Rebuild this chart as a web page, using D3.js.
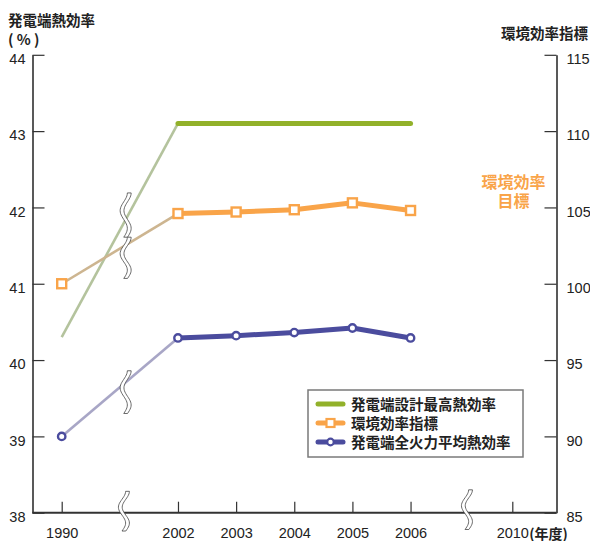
<!DOCTYPE html>
<html>
<head>
<meta charset="utf-8">
<script src="https://cdn.jsdelivr.net/npm/d3@7"></script>
<style>
  body { margin: 0; background: #fff; }
  svg { display: block; }
</style>
</head>
<body>
<div id="chart"></div>
<script>
// ---- data ----
const years = ["1990", "2002", "2003", "2004", "2005", "2006", "2010"];
const designMax = [40.3, 43.1, 43.1, 43.1, 43.1, 43.1];          // left axis (%)
const envIndex = [100, 104.6, 104.7, 104.85, 105.3, 104.8];      // right axis
const avgEfficiency = [39.0, 40.29, 40.32, 40.36, 40.42, 40.29]; // left axis (%)
const leftTicks = [38, 39, 40, 41, 42, 43, 44];
const rightTicks = [85, 90, 95, 100, 105, 110, 115];
const legendLabels = ["発電端設計最高熱効率", "環境効率指標", "発電端全火力平均熱効率"];

// ---- layout ----
const W = 590, H = 541;
const plot = {left: 32.5, right: 556.5, top: 54.8, bottom: 512.7};
// slot position of each year along the broken x axis
const yearSlots = [0, 2, 3, 4, 5, 6, 7.75];
const jp = "'Noto Sans CJK JP', 'Noto Sans', sans-serif";
const num = "'Liberation Sans', Arial, sans-serif";
const tickFont = "14.5px";

const colors = {
    green: "#92b12a", greenLink: "#b4c39d",
    orange: "#f9a449", orangeLink: "#cdb590",
    blue: "#4b4c9e", blueLink: "#a8a6c6"
};

const svg = d3.select("#chart").append("svg")
    .attr("width", W)
    .attr("height", H);

svg.append("rect").attr("width", W).attr("height", H).attr("fill", "#fff");

// Scales
const x = d3.scaleLinear().domain([0, 7.75]).range([61.7, 512.3]);
const yLeft = d3.scaleLinear().domain([38, 44]).range([plot.bottom, plot.top]);
const yRight = d3.scaleLinear().domain([85, 115]).range([plot.bottom, plot.top]);

// Left axis
const leftAxis = svg.append("g")
    .attr("transform", `translate(${plot.left},0)`)
    .call(d3.axisLeft(yLeft).tickValues(leftTicks).tickFormat(d3.format("d"))
        .tickSize(-12).tickSizeOuter(0).tickPadding(7));
leftAxis.select(".domain").attr("stroke", "#222").attr("stroke-width", 1.5);
leftAxis.selectAll(".tick line").attr("stroke", "#333").attr("stroke-width", 1.2);
leftAxis.selectAll(".tick text")
    .attr("y", 4)
    .attr("fill", "#222")
    .style("font-family", num)
    .style("font-size", tickFont);

// Right axis
const rightAxis = svg.append("g")
    .attr("transform", `translate(${plot.right},0)`)
    .call(d3.axisRight(yRight).tickValues(rightTicks).tickFormat(d3.format("d"))
        .tickSize(-12).tickSizeOuter(0).tickPadding(10));
rightAxis.select(".domain").attr("stroke", "#222").attr("stroke-width", 1.5);
rightAxis.selectAll(".tick line").attr("stroke", "#333").attr("stroke-width", 1.2);
rightAxis.selectAll(".tick text")
    .attr("y", 4)
    .attr("fill", "#222")
    .style("font-family", num)
    .style("font-size", tickFont);

// Bottom axis
const bottomAxis = svg.append("g")
    .attr("transform", `translate(0,${plot.bottom})`)
    .call(d3.axisBottom(x).tickValues(yearSlots).tickSize(-11).tickSizeOuter(0).tickPadding(15)
        .tickFormat((d, i) => years[i]));
bottomAxis.select(".domain").remove();
bottomAxis.selectAll(".tick line").attr("stroke", "#333").attr("stroke-width", 1.2);
bottomAxis.selectAll(".tick text")
    .attr("fill", "#222")
    .style("font-family", num)
    .style("font-size", tickFont);

svg.append("line")
    .attr("x1", plot.left).attr("x2", plot.right)
    .attr("y1", plot.bottom).attr("y2", plot.bottom)
    .attr("stroke", "#333")
    .attr("stroke-width", 2);

// Axis titles
svg.append("text")
    .attr("x", 8).attr("y", 25.5)
    .style("font-family", jp).style("font-size", "14.5px").style("font-weight", "bold")
    .attr("fill", "#222")
    .text("発電端熱効率");
svg.append("text")
    .attr("x", 8).attr("y", 44.5)
    .style("font-family", jp).style("font-size", "14.5px").style("font-weight", "bold")
    .attr("fill", "#222")
    .text("( % )");
svg.append("text")
    .attr("x", 588).attr("y", 38.5)
    .attr("text-anchor", "end")
    .style("font-family", jp).style("font-size", "14.5px").style("font-weight", "bold")
    .attr("fill", "#222")
    .text("環境効率指標");
svg.append("text")
    .attr("x", x(7.75) + 17).attr("y", 538.5)
    .style("font-family", jp).style("font-size", "14px").style("font-weight", "bold")
    .attr("fill", "#222")
    .text("(年度)");

// Orange target note
["環境効率", "目標"].forEach((t, i) => {
    svg.append("text")
        .attr("x", 513.5).attr("y", 188 + i * 18.5)
        .attr("text-anchor", "middle")
        .style("font-family", jp).style("font-size", "16px").style("font-weight", "bold")
        .attr("fill", colors.orange)
        .text(t);
});

// Series
const series = [
    {values: designMax, y: yLeft, color: colors.green, link: colors.greenLink, marker: null},
    {values: envIndex, y: yRight, color: colors.orange, link: colors.orangeLink, marker: "square"},
    {values: avgEfficiency, y: yLeft, color: colors.blue, link: colors.blueLink, marker: "circle"}
];

const line = d3.line()
    .x(d => x(d.slot))
    .y(d => d.py);

series.forEach(s => {
    s.points = s.values.map((v, i) => ({slot: yearSlots[i], py: s.y(v)}));
});

// thin connectors across the break (1990 -> 2002)
series.forEach(s => {
    svg.append("path")
        .datum(s.points.slice(0, 2))
        .attr("d", line)
        .attr("fill", "none")
        .attr("stroke", s.link)
        .attr("stroke-width", 2.6);
});

// Wavy break marks
function squiggle(cx, yTop, yBottom) {
    const n = 30, amp = 3.6, half = 1.9;
    const pts = d3.range(n + 1).map(k => {
        const t = k / n;
        return [cx + amp * Math.sin(Math.PI / 2 + 2 * Math.PI * 1.25 * t), yTop + t * (yBottom - yTop)];
    });
    const leftSide = pts.map(p => [p[0] - half, p[1]]);
    const rightSide = pts.map(p => [p[0] + half, p[1]]).reverse();
    svg.append("path")
        .attr("d", d3.line().curve(d3.curveLinearClosed)(leftSide.concat(rightSide)))
        .attr("fill", "#fff")
        .attr("stroke", "#444")
        .attr("stroke-width", 0.8);
}
squiggle(x(1.1), yLeft(42.19), yLeft(41.61));
squiggle(x(1.1), yLeft(41.61), yLeft(41.07));
squiggle(x(1.1), yLeft(39.86), yLeft(39.30));
squiggle(x(1.07), yLeft(38.28), yLeft(37.76));
squiggle(x(6.97), yLeft(38.30), yLeft(37.78));

// thick lines 2002-2006
series.forEach(s => {
    svg.append("path")
        .datum(s.points.slice(1))
        .attr("d", line)
        .attr("fill", "none")
        .attr("stroke", s.color)
        .attr("stroke-width", 5)
        .attr("stroke-linejoin", "round")
        .attr("stroke-linecap", "round");
});

// markers
series.forEach(s => {
    if (s.marker === "square") {
        svg.selectAll(null)
            .data(s.points)
            .enter()
            .append("rect")
            .attr("x", d => x(d.slot) - 4.5)
            .attr("y", d => d.py - 4.5)
            .attr("width", 9)
            .attr("height", 9)
            .attr("fill", "#fff")
            .attr("stroke", s.color)
            .attr("stroke-width", 2.4);
    } else if (s.marker === "circle") {
        svg.selectAll(null)
            .data(s.points)
            .enter()
            .append("circle")
            .attr("cx", d => x(d.slot))
            .attr("cy", d => d.py)
            .attr("r", 3.7)
            .attr("fill", "#fff")
            .attr("stroke", s.color)
            .attr("stroke-width", 2.4);
    }
});

// Legend
const legend = svg.append("g").attr("transform", "translate(308,390)");
legend.append("rect")
    .attr("width", 215).attr("height", 67)
    .attr("fill", "#fff")
    .attr("stroke", "#7a7a7a")
    .attr("stroke-width", 1.5);

series.forEach((s, i) => {
    const ly = 14 + i * 19;
    legend.append("line")
        .attr("x1", 10).attr("x2", 35)
        .attr("y1", ly).attr("y2", ly)
        .attr("stroke", s.color)
        .attr("stroke-width", 5)
        .attr("stroke-linecap", "round");
    if (s.marker === "square") {
        legend.append("rect")
            .attr("x", 22.5 - 4).attr("y", ly - 4)
            .attr("width", 8).attr("height", 8)
            .attr("fill", "#fff").attr("stroke", s.color).attr("stroke-width", 2.2);
    } else if (s.marker === "circle") {
        legend.append("circle")
            .attr("cx", 22.5).attr("cy", ly).attr("r", 3.3)
            .attr("fill", "#fff").attr("stroke", s.color).attr("stroke-width", 2.2);
    }
    legend.append("text")
        .attr("x", 43).attr("y", ly + 5.5)
        .style("font-family", jp).style("font-size", "14.5px").style("font-weight", "bold")
        .attr("fill", "#222")
        .text(legendLabels[i]);
});
</script>
</body>
</html>
